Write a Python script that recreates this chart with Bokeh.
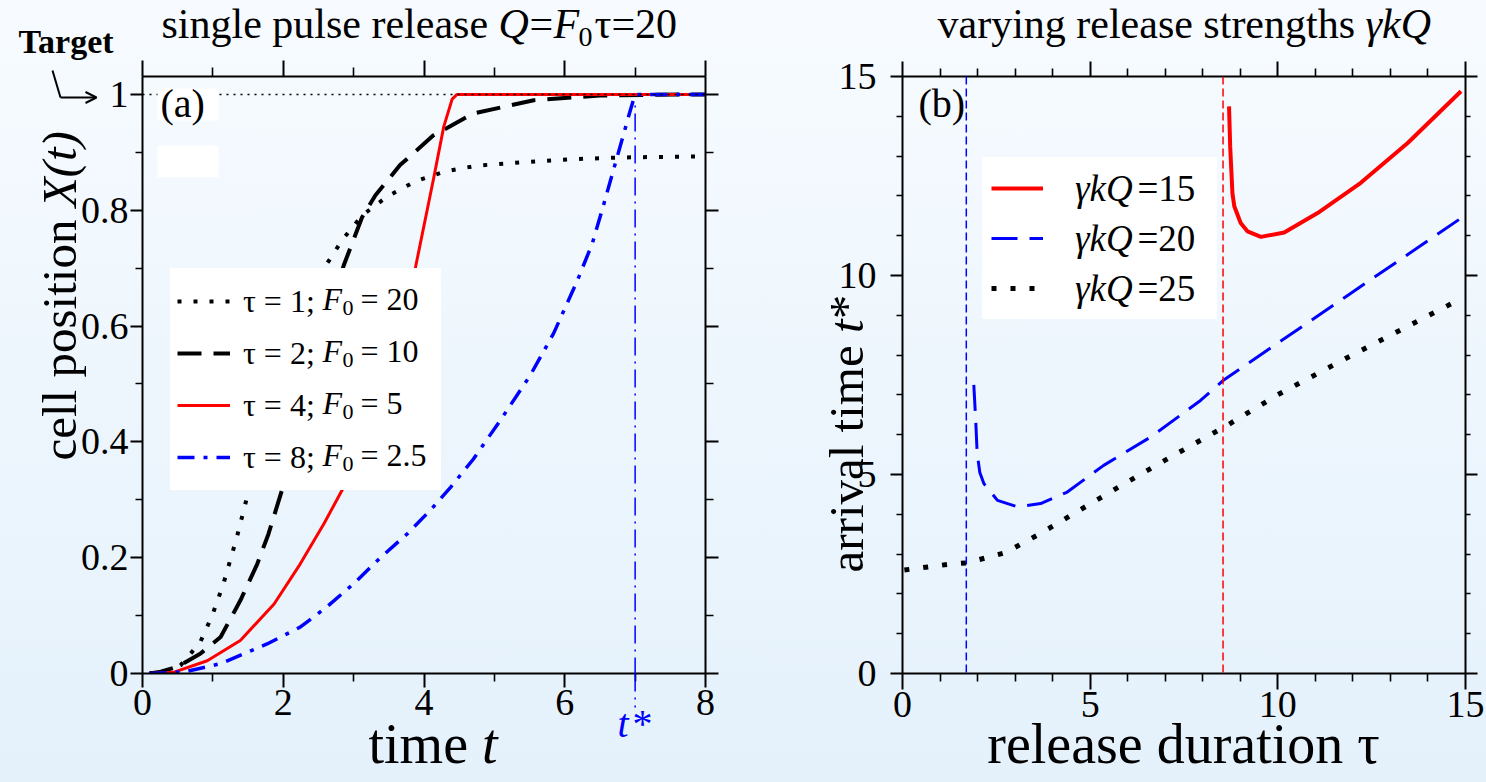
import numpy as np
from bokeh.plotting import figure
from bokeh.models import (FixedTicker, LinearAxis, Range1d, Label, Span, BoxAnnotation,
                          Legend, LegendItem, CustomJSTickFormatter, Arrow, OpenHead)
from bokeh.core.properties import value
from bokeh.layouts import row, column
from bokeh.embed import file_html
from bokeh.resources import INLINE

FONT = "Liberation Serif"

# ---------------- panel (a) data ----------------
tau_a = ["1", "2", "4", "8"]
F0_a = ["20", "10", "5", "2.5"]

t_tau1 = [0.10, 0.30, 0.54, 0.82, 0.99, 1.15, 1.34, 1.51, 1.80, 2.10, 2.35, 2.58, 2.84,
          3.12, 3.48, 3.88, 4.30, 4.75, 5.18, 6.10, 6.74, 7.30, 8.00]
X_tau1 = [0.000, 0.003, 0.014, 0.054, 0.100, 0.155, 0.235, 0.316, 0.450, 0.560, 0.640, 0.700, 0.749,
          0.791, 0.824, 0.850, 0.867, 0.877, 0.881, 0.888, 0.891, 0.892, 0.893]

t_tau2 = [0.10, 0.26, 0.50, 0.82, 1.11, 1.39, 1.63, 1.79, 1.98, 2.30, 2.60, 2.86, 3.12,
          3.31, 3.66, 4.13, 4.70, 5.56, 6.50, 7.30, 8.00]
X_tau2 = [0.000, 0.003, 0.012, 0.034, 0.063, 0.126, 0.189, 0.241, 0.316, 0.460, 0.600, 0.705, 0.788,
          0.826, 0.878, 0.929, 0.967, 0.990, 0.998, 0.9995, 1.000]

t_tau4 = [0.10, 0.44, 0.92, 1.39, 1.87, 2.24, 2.58, 2.86, 3.20, 3.50, 3.88, 4.14, 4.28, 4.40, 4.47, 8.00]
X_tau4 = [0.000, 0.002, 0.022, 0.057, 0.120, 0.189, 0.259, 0.322, 0.410, 0.520, 0.702, 0.857, 0.944,
          0.992, 1.000, 1.000]

t_tau8 = [0.10, 0.60, 1.11, 1.77, 2.24, 2.62, 3.00, 3.38, 3.76, 4.09, 4.38, 4.70, 5.10, 5.51, 5.84,
          6.17, 6.39, 6.53, 6.67, 6.81, 6.93, 7.00, 8.00]
X_tau8 = [0.000, 0.003, 0.017, 0.051, 0.080, 0.115, 0.155, 0.200, 0.241, 0.282, 0.322, 0.370, 0.440,
          0.515, 0.587, 0.676, 0.742, 0.800, 0.860, 0.920, 0.972, 1.000, 1.000]

t_star = 7.0
target = 1.0

# ---------------- panel (b) data ----------------
gkQ = ["15", "20", "25"]
tau_15 = [8.70, 8.73, 8.79, 8.84, 9.01, 9.19, 9.55, 10.17, 11.06, 12.21, 13.46, 14.88]
ts_15 = [14.25, 13.25, 12.07, 11.74, 11.32, 11.11, 10.97, 11.08, 11.57, 12.33, 13.33, 14.63]

tau_20 = [1.90, 1.95, 1.99, 2.06, 2.17, 2.53, 3.06, 3.68, 4.39, 5.36, 6.61, 7.94, 8.54, 11.86, 14.88]
ts_20 = [7.25, 6.37, 5.53, 5.05, 4.77, 4.35, 4.19, 4.27, 4.56, 5.23, 5.94, 6.86, 7.36, 9.50, 11.44]

tau_25 = [0.05, 1.19, 1.72, 2.75, 3.68, 4.57, 5.46, 6.39, 7.28, 8.66, 9.99, 11.90, 14.93]
ts_25 = [2.60, 2.74, 2.78, 3.04, 3.52, 4.02, 4.52, 5.03, 5.51, 6.24, 7.00, 7.96, 9.44]

tau_crit = [1.70, 8.54]   # vertical asymptotes (blue: 20, red: 15)

# ---------------- geometry (page pixels) ----------------
W, H = 1486, 782
XR_A, YR_A = (0, 8), (0, 1.031)
XR_B, YR_B = (0, 15), (0, 15)
FL_A, FL_B, FR_W, FT, FB = 142, 902, 563, 76, 673
MID = 0.34   # distance (em) between text middle and alphabetic baseline


def lx(px): return (px - FL_A) * (XR_A[1] - XR_A[0]) / FR_W
def ly(py): return (FB - py) * (YR_A[1] - YR_A[0]) / (FB - FT)
def rx(px): return (px - FL_B) * (XR_B[1] - XR_B[0]) / FR_W
def ry(py): return (FB - py) * (YR_B[1] - YR_B[0]) / (FB - FT)


def make_fig(width, xr, yr, mbl, mbr):
    p = figure(width=width, height=H, x_range=Range1d(*xr), y_range=Range1d(*yr),
               output_backend="svg", toolbar_location=None, title=None,
               min_border_left=mbl, min_border_right=mbr, min_border_top=FT,
               min_border_bottom=H - FB)
    p.background_fill_alpha = 0
    p.border_fill_alpha = 0
    p.outline_line_color = None
    p.grid.visible = False
    return p


def style_axis(ax, ticks, minor, maj_out, min_out, show, standoff=2, fmt=None):
    ax.ticker = FixedTicker(ticks=ticks, minor_ticks=minor)
    ax.axis_line_width = 2
    ax.axis_line_color = "black"
    ax.major_tick_line_width = 2
    ax.minor_tick_line_width = 1.6
    ax.major_tick_line_color = "black"
    ax.minor_tick_line_color = "black"
    ax.major_tick_in = 0
    ax.minor_tick_in = 0
    ax.major_tick_out = maj_out
    ax.minor_tick_out = min_out
    ax.axis_label = None
    if show:
        ax.major_label_text_font = FONT
        ax.major_label_text_font_size = "38px"
        ax.major_label_text_color = "black"
        ax.major_label_standoff = standoff
        if fmt is not None:
            ax.formatter = fmt
    else:
        ax.formatter = CustomJSTickFormatter(code="return ''")
        ax.major_label_text_font_size = "0px"
        ax.major_label_standoff = 0


def lab(p, x, y, text, size, style="normal", color="black", align="left", font=FONT):
    p.add_layout(Label(x=x, y=y, text=text, text_font=font, text_font_size=f"{size}px",
                       text_font_style=style, text_color=color,
                       text_align=align, text_baseline="middle"))


def vlab(p, x, y, text, size, style="normal", color="black"):
    p.add_layout(Label(x=x, y=y, text=text, text_font=FONT, text_font_size=f"{size}px",
                       text_font_style=style, text_color=color, angle=np.pi / 2,
                       text_align="left", text_baseline="middle"))


# ================= panel (a) =================
p1 = make_fig(752, XR_A, YR_A, FL_A, 752 - (FL_A + FR_W))
xa_t, xa_m = [0, 2, 4, 6, 8], [1, 3, 5, 7]
ya_t, ya_m = [0, 0.2, 0.4, 0.6, 0.8, 1.0], [0.1, 0.3, 0.5, 0.7, 0.9]
style_axis(p1.xaxis[0], xa_t, xa_m, 14, 8, True, 2)
style_axis(p1.yaxis[0], ya_t, ya_m, 12, 7, True, 2,
           CustomJSTickFormatter(code="return (Math.round(tick*10)/10).toString()"))
ax_top = LinearAxis()
p1.add_layout(ax_top, "above")
style_axis(ax_top, xa_t, xa_m, 16, 9, False)
ax_right = LinearAxis()
p1.add_layout(ax_right, "right")
style_axis(ax_right, ya_t, ya_m, 13, 8, False)

r1 = p1.line(t_tau1, X_tau1, line_color="black", line_width=4, line_dash="4 12")
r2 = p1.line(t_tau2, X_tau2, line_color="black", line_width=4, line_dash="24 12")
r4 = p1.line(t_tau4, X_tau4, line_color="red", line_width=3)
r8 = p1.line(t_tau8, X_tau8, line_color="blue", line_width=3.5, line_dash="17 9 4 9")

p1.add_layout(Span(location=target, dimension="width", line_color="black",
                   line_width=1.5, line_dash="2 5"))
p1.add_layout(Arrow(end=None, x_start=t_star, y_start=ly(707), x_end=t_star, y_end=ly(103),
                    line_color="blue", line_width=1.5, line_dash="18 6 2 6"))

p1.add_layout(BoxAnnotation(left=lx(157), right=lx(218), top=ly(88), bottom=ly(120),
                            fill_color="white", fill_alpha=1, line_alpha=0))
p1.add_layout(BoxAnnotation(left=lx(157), right=lx(218), top=ly(145), bottom=ly(177),
                            fill_color="white", fill_alpha=1, line_alpha=0))
lab(p1, lx(160), ly(117 - MID * 40), "(a)", 40)

leg_a = Legend(items=[LegendItem(label=value(f"τ = {tau_a[i]};"), renderers=[r])
                      for i, r in enumerate([r1, r2, r4, r8])],
               location=(28, FB - 490), orientation="vertical",
               label_text_font=FONT, label_text_font_size="32px", label_text_color="black",
               glyph_width=53, glyph_height=52, label_height=52, label_width=191,
               label_standoff=13, padding=7, spacing=0, margin=0,
               border_line_alpha=0, background_fill_color="white", background_fill_alpha=1)
p1.add_layout(leg_a)

# ================= panel (b) =================
p2 = make_fig(W - 752, XR_B, YR_B, FL_B - 752, W - (FL_B + FR_W))
xb_t = [0, 5, 10, 15]
xb_m = [v for v in range(1, 15) if v % 5 != 0]
style_axis(p2.xaxis[0], xb_t, xb_m, 16, 8, True, 2)
style_axis(p2.yaxis[0], xb_t, xb_m, 12, 6, True, 14)
bx_top = LinearAxis()
p2.add_layout(bx_top, "above")
style_axis(bx_top, xb_t, xb_m, 15, 8, False)
bx_right = LinearAxis()
p2.add_layout(bx_right, "right")
style_axis(bx_right, xb_t, xb_m, 12, 5, False)

p2.add_layout(Span(location=tau_crit[0], dimension="height", line_color="blue",
                   line_width=1.5, line_dash="8 4"))
p2.add_layout(Span(location=tau_crit[1], dimension="height", line_color="red",
                   line_width=1.5, line_dash="8 4"))

q15 = p2.line(tau_15, ts_15, line_color="red", line_width=4)
q20 = p2.line(tau_20, ts_20, line_color="blue", line_width=3, line_dash="26 12")
q25 = p2.line(tau_25, ts_25, line_color="black", line_width=5, line_dash="5 14")

leg_b = Legend(items=[LegendItem(label=value("γkQ"), renderers=[r]) for r in [q15, q20, q25]],
               location=(80, FB - 319), orientation="vertical",
               label_text_font=FONT, label_text_font_size="37px", label_text_font_style="italic",
               label_text_color="black",
               glyph_width=52, glyph_height=44, label_height=44, label_width=133,
               label_standoff=32, padding=9, spacing=6, margin=0,
               border_line_alpha=0, background_fill_color="white", background_fill_alpha=1)
p2.add_layout(leg_b)
lab(p2, rx(918), ry(117 - MID * 40), "(b)", 40)

# ================= text overlay (page-pixel coordinates, y downwards) =================
ov = figure(width=W, height=H, x_range=Range1d(0, W), y_range=Range1d(H, 0),
            output_backend="svg", toolbar_location=None, title=None,
            x_axis_type=None, y_axis_type=None,
            min_border_left=0, min_border_right=0, min_border_top=0, min_border_bottom=0)
ov.background_fill_alpha = 0
ov.border_fill_alpha = 0
ov.outline_line_color = None
ov.grid.visible = False
ov.margin = (-H, 0, 0, 0)


def T(x, base, text, size, **kw):
    lab(ov, x, base - MID * size, text, size, **kw)


def V(base_x, y, text, size, **kw):
    vlab(ov, base_x - MID * size, y, text, size, **kw)


# t* marker line continued below the axis
xs_star = FL_A + (t_star - XR_A[0]) * FR_W / (XR_A[1] - XR_A[0])
ov.add_layout(Arrow(end=None, x_start=xs_star, y_start=FB, x_end=xs_star, y_end=707,
                    line_color="blue", line_width=1.5, line_dash="18 6 2 6"))

# legend (a) rich-text parts (row centres)
for i in range(4):
    yc = 298 + 52 * i
    lab(ov, 322, yc, "F", 32, style="italic")
    lab(ov, 342, yc + 9, "0", 22)
    lab(ov, 360, yc, f"= {F0_a[i]}", 32)
# legend (b) rich-text parts
for i in range(3):
    lab(ov, 1137, 188 + 50 * i, f"={gkQ[i]}", 37)

# title (a)
T(161, 38, "single pulse release ", 42)
T(498, 38, "Q", 42, style="italic")
T(529, 38, "=", 42)
T(553, 38, "F", 42, style="italic")
T(578, 46, "0", 28)
T(594, 38, "τ=20", 42)

# Target marker
T(18, 53, "Target", 34, style="bold")
ov.add_layout(Arrow(end=None, x_start=52, y_start=70, x_end=60, y_end=97,
                    line_color="black", line_width=2))
ov.add_layout(Arrow(end=OpenHead(size=11, line_width=2, line_color="black"),
                    x_start=60, y_start=97, x_end=96, y_end=97,
                    line_color="black", line_width=2))

# axis labels (a)
V(76, 460, "cell position ", 49)
V(76, 460 - 5.167 * 49, "X(t)", 49, style="italic")
T(368, 763, "time ", 56)
T(368 + 2.028 * 56, 763, "t", 56, style="italic")
T(617, 737, "t", 40, style="italic", color="blue")
T(632, 737, "*", 40, color="blue")

# title (b)
T(937, 38, "varying release strengths ", 42)
T(1365, 38, "γkQ", 42, style="italic")

# axis labels (b)
V(863, 572, "arrival time ", 49)
V(863, 572 - 4.888 * 49, "t", 49, style="italic")
V(863, 572 - 4.888 * 49 - 0.278 * 49, "*", 49)
T(1190, 763, "release duration  τ", 56, align="center")

lay = column(row(p1, p2), ov)
lay.styles = {"background": "linear-gradient(180deg, #f7fbff 0%, #e4f1fb 100%)"}

open("out.html", "w").write(file_html(lay, INLINE))
